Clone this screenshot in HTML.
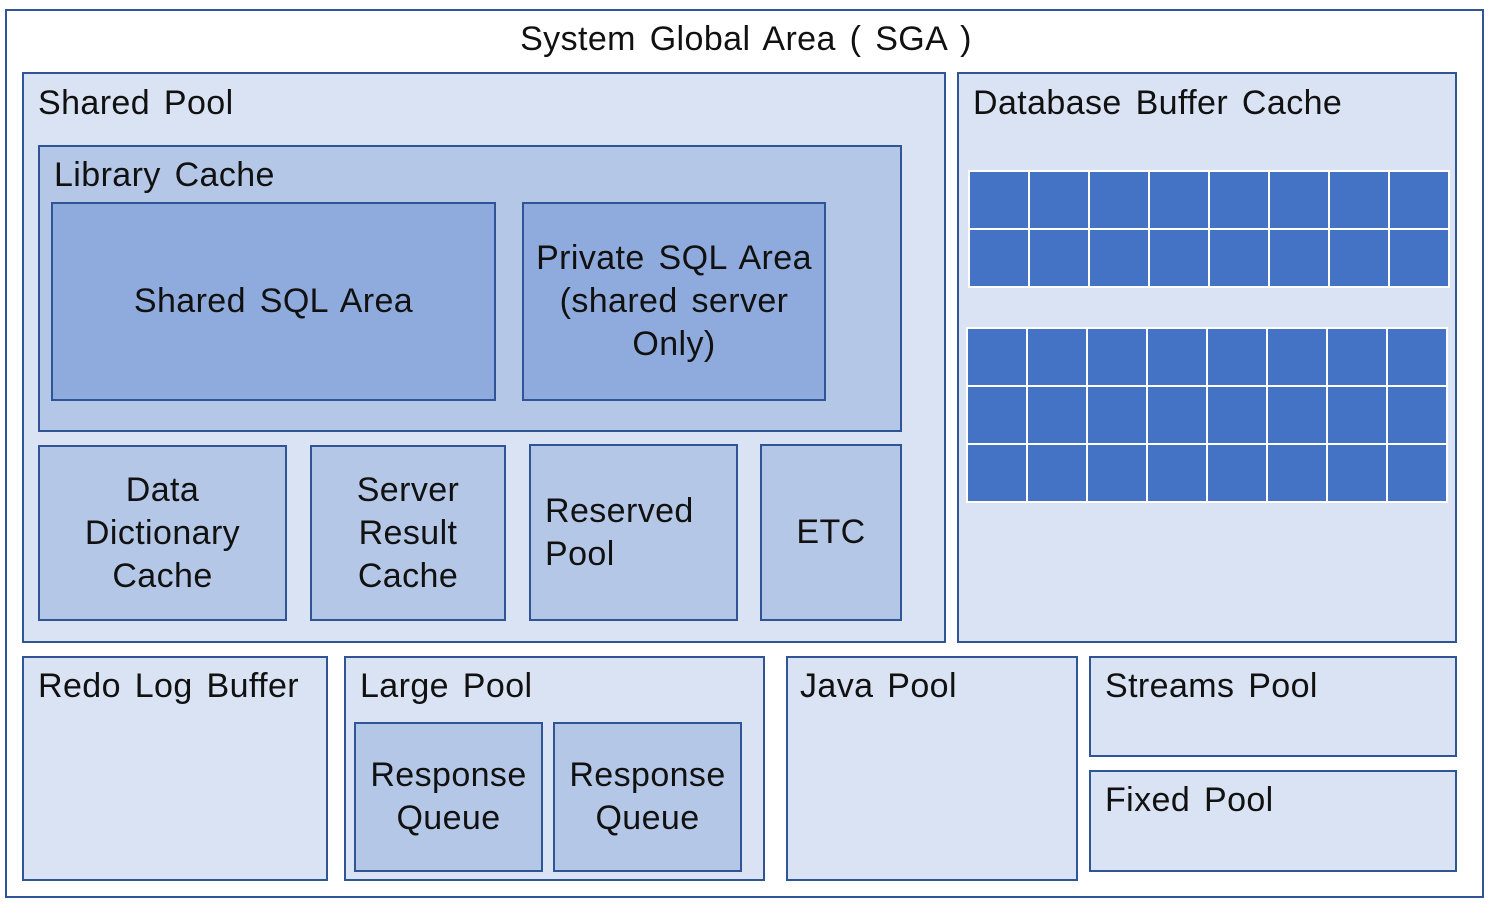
<!DOCTYPE html>
<html><head><style>
body{margin:0;width:1492px;height:906px;background:#fff;position:relative;overflow:hidden;font-family:"Liberation Sans","Noto Sans CJK KR",sans-serif;color:#111;letter-spacing:0.4px;word-spacing:4px}
.b{position:absolute;box-sizing:border-box;border:2px solid #2F5597;background:#DAE3F3}
.m{background:#B4C7E7}.d{background:#8FAADC}
.t{position:absolute;font-size:34px;white-space:nowrap;line-height:1}
.c{display:flex;align-items:center;justify-content:center;text-align:center;font-size:34px;line-height:43px}
.g{position:absolute;display:grid;grid-template-columns:repeat(8,58px);gap:2px;background:#fff;padding:2px}
.g div{background:#4472C4;height:56px}
</style></head><body>
<div class="b" style="left:5px;top:9px;width:1479px;height:889px;background:#fff"></div>
<div class="t" style="left:0;width:1492px;text-align:center;top:22px">System Global Area ( SGA )</div>

<div class="b" style="left:22px;top:72px;width:924px;height:571px"></div>
<div class="t" style="left:38px;top:86px">Shared Pool</div>
<div class="b m" style="left:38px;top:145px;width:864px;height:287px"></div>
<div class="t" style="left:54px;top:158px">Library Cache</div>
<div class="b d c" style="left:51px;top:202px;width:445px;height:199px">Shared SQL Area</div>
<div class="b d c" style="left:522px;top:202px;width:304px;height:199px">Private SQL Area<br>(shared server<br>Only)</div>
<div class="b m c" style="left:38px;top:445px;width:249px;height:176px">Data<br>Dictionary<br>Cache</div>
<div class="b m c" style="left:310px;top:445px;width:196px;height:176px">Server<br>Result<br>Cache</div>
<div class="b m c" style="left:529px;top:444px;width:209px;height:177px;justify-content:flex-start;text-align:left;padding-left:14px">Reserved<br>Pool</div>
<div class="b m c" style="left:760px;top:444px;width:142px;height:177px">ETC</div>

<div class="b" style="left:957px;top:72px;width:500px;height:571px"></div>
<div class="t" style="left:973px;top:86px">Database Buffer Cache</div>
<div class="g" style="left:968px;top:170px"><div></div><div></div><div></div><div></div><div></div><div></div><div></div><div></div><div></div><div></div><div></div><div></div><div></div><div></div><div></div><div></div></div>
<div class="g" style="left:966px;top:327px"><div></div><div></div><div></div><div></div><div></div><div></div><div></div><div></div><div></div><div></div><div></div><div></div><div></div><div></div><div></div><div></div><div></div><div></div><div></div><div></div><div></div><div></div><div></div><div></div></div>

<div class="b" style="left:22px;top:656px;width:306px;height:225px"></div>
<div class="t" style="left:38px;top:669px">Redo Log Buffer</div>
<div class="b" style="left:344px;top:656px;width:421px;height:225px"></div>
<div class="t" style="left:360px;top:669px">Large Pool</div>
<div class="b m c" style="left:354px;top:722px;width:189px;height:150px">Response<br>Queue</div>
<div class="b m c" style="left:553px;top:722px;width:189px;height:150px">Response<br>Queue</div>
<div class="b" style="left:786px;top:656px;width:292px;height:225px"></div>
<div class="t" style="left:800px;top:669px">Java Pool</div>
<div class="b" style="left:1089px;top:656px;width:368px;height:101px"></div>
<div class="t" style="left:1105px;top:669px">Streams Pool</div>
<div class="b" style="left:1089px;top:770px;width:368px;height:102px"></div>
<div class="t" style="left:1105px;top:783px">Fixed Pool</div>
</body></html>
